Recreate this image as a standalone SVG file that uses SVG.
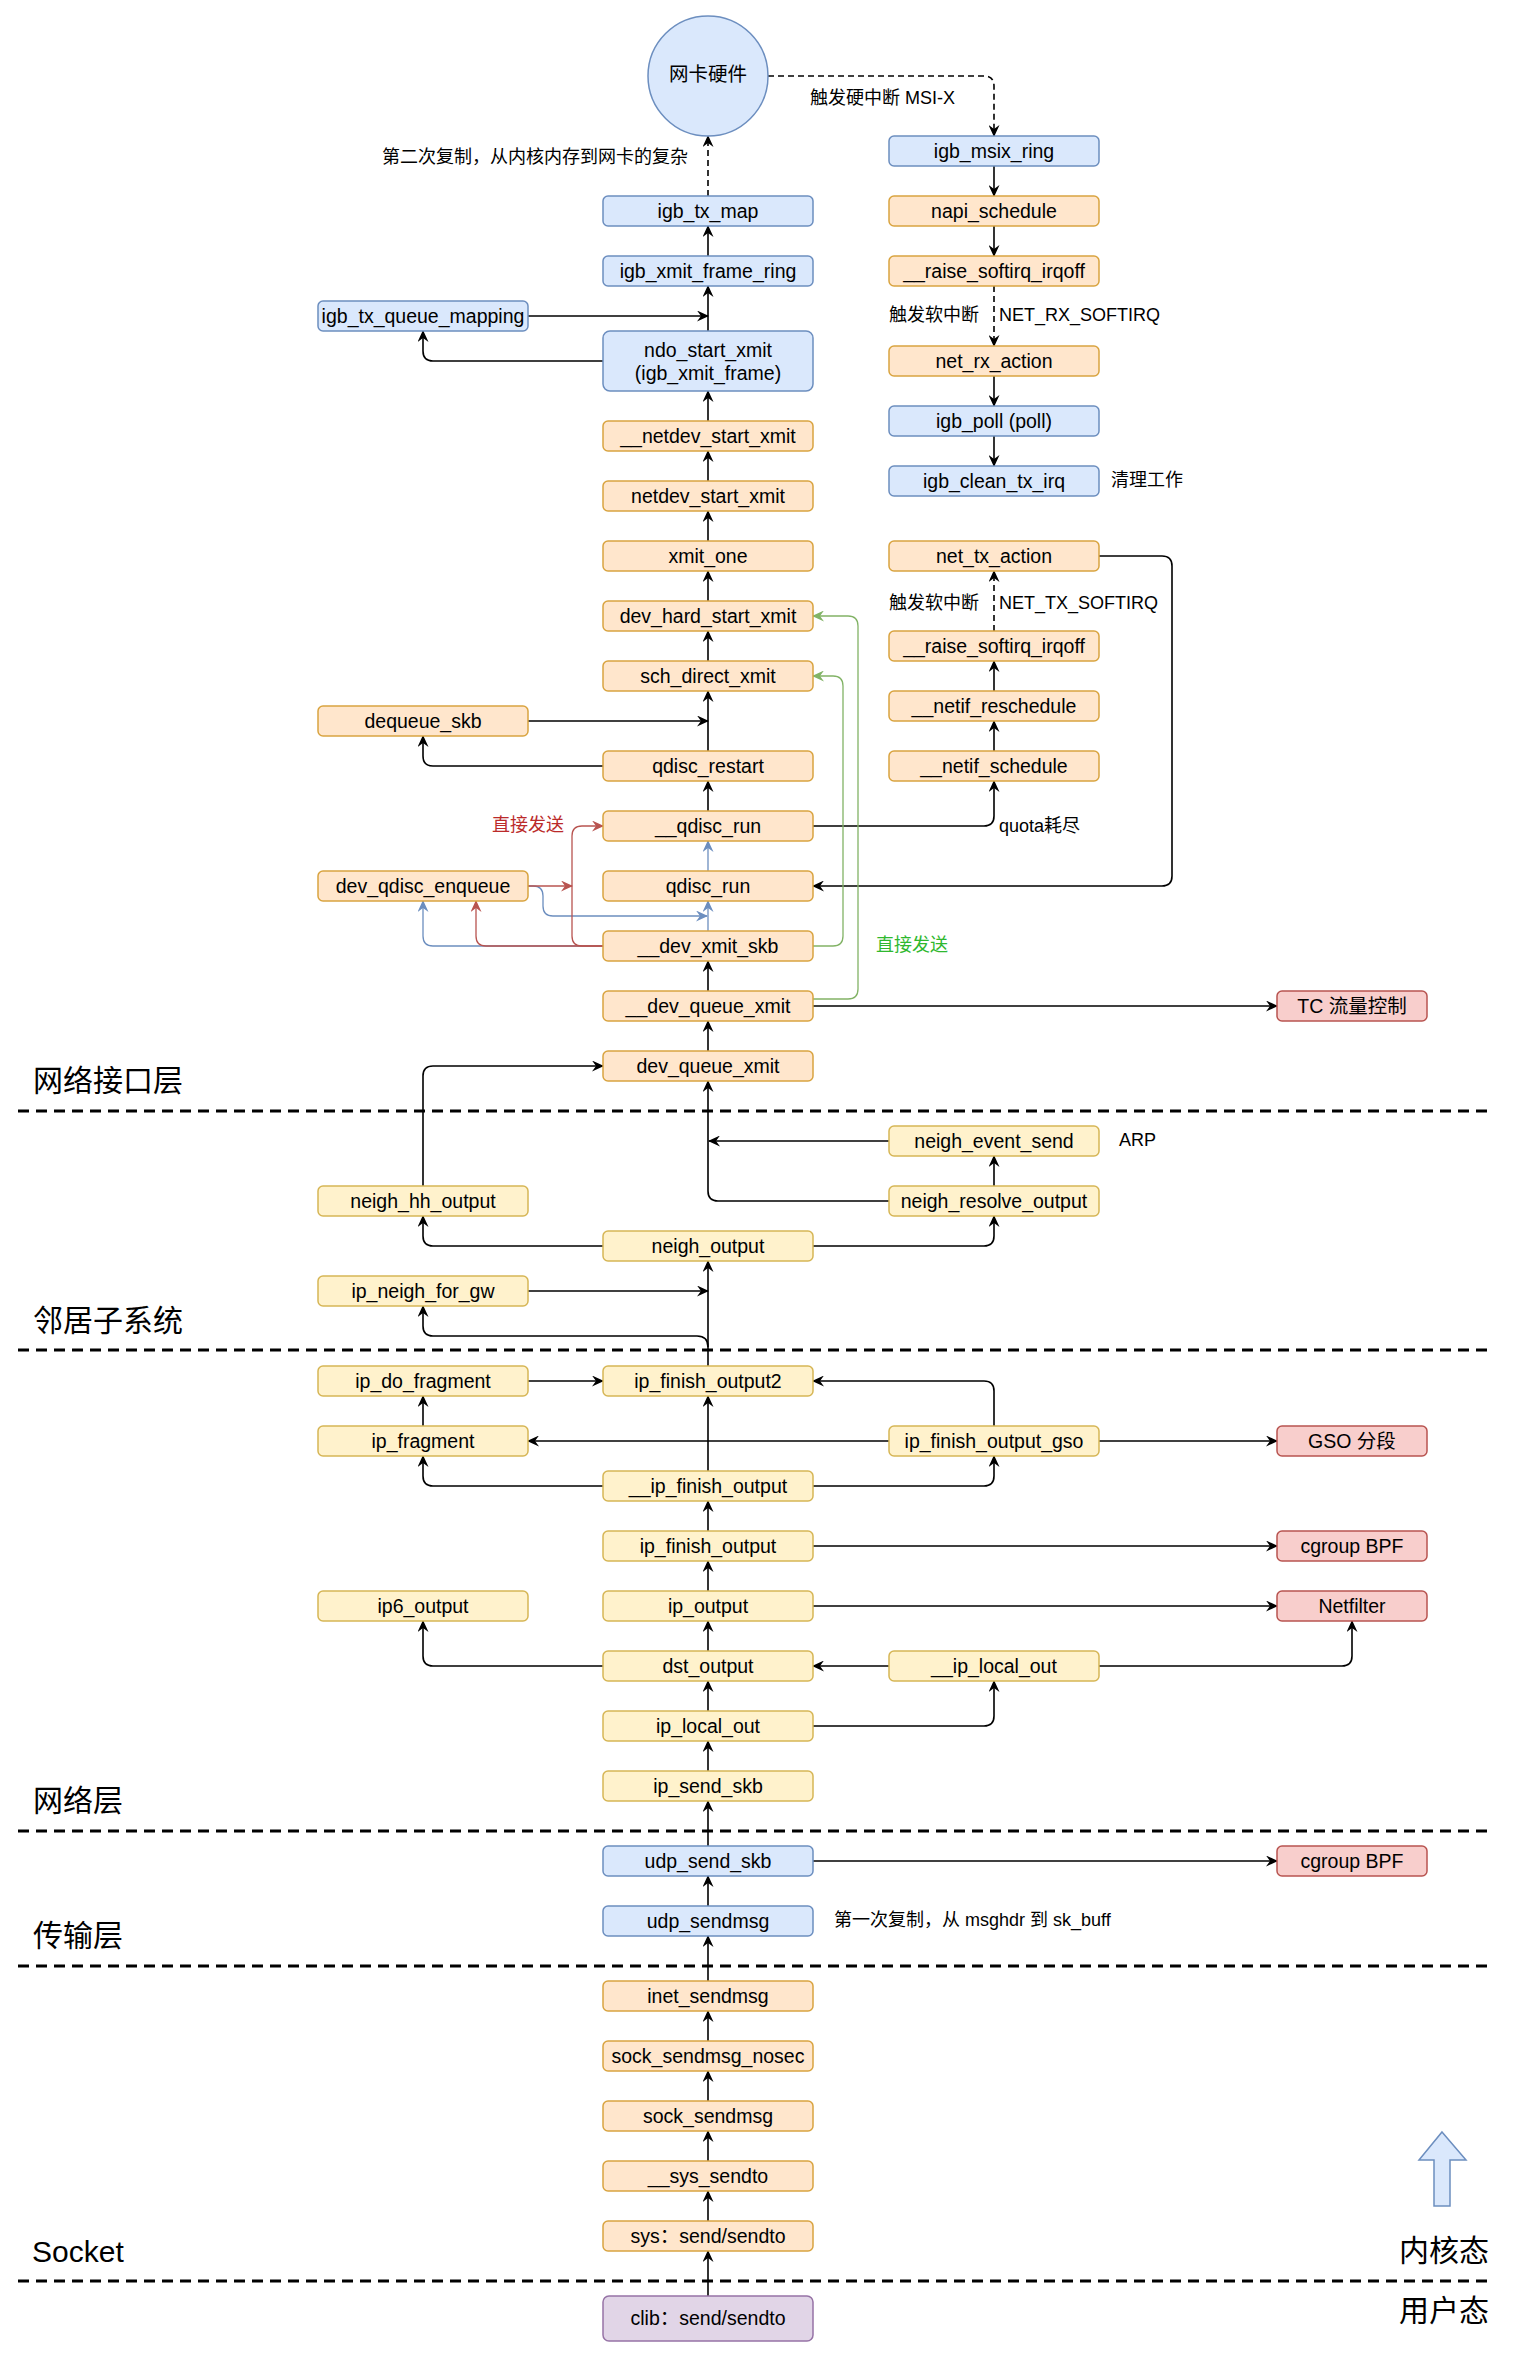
<svg xmlns="http://www.w3.org/2000/svg" width="1518" height="2357" viewBox="0 0 1518 2357">
<style>
.node rect, .node ellipse { stroke-width: 1.5; }
.b rect, .b ellipse { fill: #dae8fc; stroke: #6c8ebf; }
.o rect { fill: #ffe6cc; stroke: #d9a440; }
.y rect { fill: #fff2cc; stroke: #d6b656; }
.r rect { fill: #f8cecc; stroke: #b85450; }
.p rect { fill: #e1d5e7; stroke: #9673a6; }
.node text { font-family: "Liberation Sans", "Noto Sans CJK SC", sans-serif; font-size: 19.5px; text-anchor: middle; dominant-baseline: central; fill: #000; }
.lbl { font-family: "Liberation Sans", "Noto Sans CJK SC", sans-serif; font-size: 18px; dominant-baseline: central; fill: #000; }
.sec { font-family: "Liberation Sans", "Noto Sans CJK SC", sans-serif; font-size: 30px; dominant-baseline: central; fill: #000; }
.c { fill: none; stroke-width: 1.6; }
.k { stroke: #000; marker-end: url(#ak); }
.bl { stroke: #6c8ebf; stroke-width: 1.3; marker-end: url(#ab); }
.rd { stroke: #b85450; stroke-width: 1.3; marker-end: url(#ar); }
.gr { stroke: #82b366; stroke-width: 1.3; marker-end: url(#ag); }
.d { stroke-dasharray: 6 4; }
.sep { stroke: #000; stroke-width: 3; stroke-dasharray: 11 7; fill: none; }
</style>
<defs>
<marker id="ak" viewBox="0 0 12 11" refX="11" refY="5.5" markerWidth="12" markerHeight="11" orient="auto" markerUnits="userSpaceOnUse"><path d="M0,0 L12,5.5 L0,11 L4,5.5 Z" fill="#000"/></marker>
<marker id="ab" viewBox="0 0 12 11" refX="11" refY="5.5" markerWidth="12" markerHeight="11" orient="auto" markerUnits="userSpaceOnUse"><path d="M0,0 L12,5.5 L0,11 L4,5.5 Z" fill="#6c8ebf"/></marker>
<marker id="ar" viewBox="0 0 12 11" refX="11" refY="5.5" markerWidth="12" markerHeight="11" orient="auto" markerUnits="userSpaceOnUse"><path d="M0,0 L12,5.5 L0,11 L4,5.5 Z" fill="#b85450"/></marker>
<marker id="ag" viewBox="0 0 12 11" refX="11" refY="5.5" markerWidth="12" markerHeight="11" orient="auto" markerUnits="userSpaceOnUse"><path d="M0,0 L12,5.5 L0,11 L4,5.5 Z" fill="#82b366"/></marker>
</defs>
<rect width="1518" height="2357" fill="#ffffff"/>

<g id="separators">
<path class="sep" d="M18,1111 H1493"/>
<path class="sep" d="M18,1350 H1493"/>
<path class="sep" d="M18,1831 H1493"/>
<path class="sep" d="M18,1966 H1493"/>
<path class="sep" d="M18,2281 H1493"/>
</g>

<g id="connectors">
<path class="c k d" d="M708,196 L708,136"/>
<path class="c k d" d="M768,76 L984,76 Q994,76 994,86 L994,136"/>
<path class="c k" d="M708,256 L708,226"/>
<path class="c k" d="M708,331 L708,286"/>
<path class="c k" d="M528,316 L708,316"/>
<path class="c k" d="M603,361 L433,361 Q423,361 423,351 L423,331"/>
<path class="c k" d="M708,421 L708,391"/>
<path class="c k" d="M708,481 L708,451"/>
<path class="c k" d="M708,541 L708,511"/>
<path class="c k" d="M708,601 L708,571"/>
<path class="c k" d="M708,661 L708,631"/>
<path class="c k" d="M708,751 L708,691"/>
<path class="c k" d="M528,721 L708,721"/>
<path class="c k" d="M603,766 L433,766 Q423,766 423,756 L423,736"/>
<path class="c k" d="M708,811 L708,781"/>
<path class="c k" d="M708,991 L708,961"/>
<path class="c k" d="M708,1051 L708,1021"/>
<path class="c k" d="M813,1006 L1277,1006"/>
<path class="c k" d="M994,166 L994,196"/>
<path class="c k" d="M994,226 L994,256"/>
<path class="c k d" d="M994,286 L994,346"/>
<path class="c k" d="M994,376 L994,406"/>
<path class="c k" d="M994,436 L994,466"/>
<path class="c k" d="M1099,556 L1162,556 Q1172,556 1172,566 L1172,876 Q1172,886 1162,886 L813,886"/>
<path class="c k d" d="M994,631 L994,571"/>
<path class="c k" d="M994,691 L994,661"/>
<path class="c k" d="M994,751 L994,721"/>
<path class="c k" d="M813,826 L984,826 Q994,826 994,816 L994,781"/>
<path class="c bl" d="M708,871 L708,841"/>
<path class="c bl" d="M708,931 L708,901"/>
<path class="c bl" d="M528,886 L533,886 Q543,886 543,896 L543,906 Q543,916 553,916 L707,916"/>
<path class="c bl" d="M603,946 L433,946 Q423,946 423,936 L423,901"/>
<path class="c rd" d="M528,886 L572,886"/>
<path class="c rd" d="M603,946 L486,946 Q476,946 476,936 L476,901"/>
<path class="c rd" d="M603,946 L582,946 Q572,946 572,936 L572,836 Q572,826 582,826 L603,826"/>
<path class="c gr" d="M813,946 L833,946 Q843,946 843,936 L843,686 Q843,676 833,676 L813,676"/>
<path class="c gr" d="M813,999 L848,999 Q858,999 858,989 L858,626 Q858,616 848,616 L813,616"/>
<path class="c k" d="M889,1201 L718,1201 Q708,1201 708,1191 L708,1081"/>
<path class="c k" d="M889,1141 L709,1141"/>
<path class="c k" d="M994,1186 L994,1156"/>
<path class="c k" d="M423,1186 L423,1076 Q423,1066 433,1066 L603,1066"/>
<path class="c k" d="M603,1246 L433,1246 Q423,1246 423,1236 L423,1216"/>
<path class="c k" d="M813,1246 L984,1246 Q994,1246 994,1236 L994,1216"/>
<path class="c k" d="M708,1366 L708,1261"/>
<path class="c k" d="M528,1291 L708,1291"/>
<path class="c k" d="M708,1347 Q708,1336 697,1336 L433,1336 Q423,1336 423,1326 L423,1306"/>
<path class="c k" d="M528,1381 L603,1381"/>
<path class="c k" d="M423,1426 L423,1396"/>
<path class="c k" d="M889,1441 L528,1441"/>
<path class="c k" d="M994,1426 L994,1391 Q994,1381 984,1381 L813,1381"/>
<path class="c k" d="M1099,1441 L1277,1441"/>
<path class="c k" d="M708,1471 L708,1396"/>
<path class="c k" d="M603,1486 L433,1486 Q423,1486 423,1476 L423,1456"/>
<path class="c k" d="M813,1486 L984,1486 Q994,1486 994,1476 L994,1456"/>
<path class="c k" d="M708,1531 L708,1501"/>
<path class="c k" d="M813,1546 L1277,1546"/>
<path class="c k" d="M708,1591 L708,1561"/>
<path class="c k" d="M813,1606 L1277,1606"/>
<path class="c k" d="M708,1651 L708,1621"/>
<path class="c k" d="M603,1666 L433,1666 Q423,1666 423,1656 L423,1621"/>
<path class="c k" d="M889,1666 L813,1666"/>
<path class="c k" d="M1099,1666 L1342,1666 Q1352,1666 1352,1656 L1352,1621"/>
<path class="c k" d="M708,1711 L708,1681"/>
<path class="c k" d="M813,1726 L984,1726 Q994,1726 994,1716 L994,1681"/>
<path class="c k" d="M708,1771 L708,1741"/>
<path class="c k" d="M708,1846 L708,1801"/>
<path class="c k" d="M813,1861 L1277,1861"/>
<path class="c k" d="M708,1906 L708,1876"/>
<path class="c k" d="M708,1981 L708,1936"/>
<path class="c k" d="M708,2041 L708,2011"/>
<path class="c k" d="M708,2101 L708,2071"/>
<path class="c k" d="M708,2161 L708,2131"/>
<path class="c k" d="M708,2221 L708,2191"/>
<path class="c k" d="M708,2296 L708,2251"/>
</g>

<g id="nodes">
<g id="n-nic" class="node b"><ellipse cx="708" cy="76" rx="60" ry="60"/><text x="708" y="74">网卡硬件</text></g>
<g id="n-igb_tx_map" class="node b"><rect x="603" y="196" width="210" height="30" rx="5"/><text x="708" y="211">igb_tx_map</text></g>
<g id="n-igb_xmit_frame_ring" class="node b"><rect x="603" y="256" width="210" height="30" rx="5"/><text x="708" y="271">igb_xmit_frame_ring</text></g>
<g id="n-igb_tx_queue_mapping" class="node b"><rect x="318" y="301" width="210" height="30" rx="5"/><text x="423" y="316">igb_tx_queue_mapping</text></g>
<g id="n-ndo_start_xmit" class="node b"><rect x="603" y="331" width="210" height="60" rx="7"/><text x="708" y="350">ndo_start_xmit</text><text x="708" y="373">(igb_xmit_frame)</text></g>
<g id="n-__netdev_start_xmit" class="node o"><rect x="603" y="421" width="210" height="30" rx="5"/><text x="708" y="436">__netdev_start_xmit</text></g>
<g id="n-netdev_start_xmit" class="node o"><rect x="603" y="481" width="210" height="30" rx="5"/><text x="708" y="496">netdev_start_xmit</text></g>
<g id="n-xmit_one" class="node o"><rect x="603" y="541" width="210" height="30" rx="5"/><text x="708" y="556">xmit_one</text></g>
<g id="n-dev_hard_start_xmit" class="node o"><rect x="603" y="601" width="210" height="30" rx="5"/><text x="708" y="616">dev_hard_start_xmit</text></g>
<g id="n-sch_direct_xmit" class="node o"><rect x="603" y="661" width="210" height="30" rx="5"/><text x="708" y="676">sch_direct_xmit</text></g>
<g id="n-dequeue_skb" class="node o"><rect x="318" y="706" width="210" height="30" rx="5"/><text x="423" y="721">dequeue_skb</text></g>
<g id="n-qdisc_restart" class="node o"><rect x="603" y="751" width="210" height="30" rx="5"/><text x="708" y="766">qdisc_restart</text></g>
<g id="n-__qdisc_run" class="node o"><rect x="603" y="811" width="210" height="30" rx="5"/><text x="708" y="826">__qdisc_run</text></g>
<g id="n-qdisc_run" class="node o"><rect x="603" y="871" width="210" height="30" rx="5"/><text x="708" y="886">qdisc_run</text></g>
<g id="n-dev_qdisc_enqueue" class="node o"><rect x="318" y="871" width="210" height="30" rx="5"/><text x="423" y="886">dev_qdisc_enqueue</text></g>
<g id="n-__dev_xmit_skb" class="node o"><rect x="603" y="931" width="210" height="30" rx="5"/><text x="708" y="946">__dev_xmit_skb</text></g>
<g id="n-__dev_queue_xmit" class="node o"><rect x="603" y="991" width="210" height="30" rx="5"/><text x="708" y="1006">__dev_queue_xmit</text></g>
<g id="n-dev_queue_xmit" class="node o"><rect x="603" y="1051" width="210" height="30" rx="5"/><text x="708" y="1066">dev_queue_xmit</text></g>
<g id="n-tc" class="node r"><rect x="1277" y="991" width="150" height="30" rx="5"/><text x="1352" y="1006">TC 流量控制</text></g>

<g id="n-igb_msix_ring" class="node b"><rect x="889" y="136" width="210" height="30" rx="5"/><text x="994" y="151">igb_msix_ring</text></g>
<g id="n-napi_schedule" class="node o"><rect x="889" y="196" width="210" height="30" rx="5"/><text x="994" y="211">napi_schedule</text></g>
<g id="n-__raise_softirq_irqoff_rx" class="node o"><rect x="889" y="256" width="210" height="30" rx="5"/><text x="994" y="271">__raise_softirq_irqoff</text></g>
<g id="n-net_rx_action" class="node o"><rect x="889" y="346" width="210" height="30" rx="5"/><text x="994" y="361">net_rx_action</text></g>
<g id="n-igb_poll" class="node b"><rect x="889" y="406" width="210" height="30" rx="5"/><text x="994" y="421">igb_poll (poll)</text></g>
<g id="n-igb_clean_tx_irq" class="node b"><rect x="889" y="466" width="210" height="30" rx="5"/><text x="994" y="481">igb_clean_tx_irq</text></g>
<g id="n-net_tx_action" class="node o"><rect x="889" y="541" width="210" height="30" rx="5"/><text x="994" y="556">net_tx_action</text></g>
<g id="n-__raise_softirq_irqoff_tx" class="node o"><rect x="889" y="631" width="210" height="30" rx="5"/><text x="994" y="646">__raise_softirq_irqoff</text></g>
<g id="n-__netif_reschedule" class="node o"><rect x="889" y="691" width="210" height="30" rx="5"/><text x="994" y="706">__netif_reschedule</text></g>
<g id="n-__netif_schedule" class="node o"><rect x="889" y="751" width="210" height="30" rx="5"/><text x="994" y="766">__netif_schedule</text></g>

<g id="n-neigh_event_send" class="node y"><rect x="889" y="1126" width="210" height="30" rx="5"/><text x="994" y="1141">neigh_event_send</text></g>
<g id="n-neigh_resolve_output" class="node y"><rect x="889" y="1186" width="210" height="30" rx="5"/><text x="994" y="1201">neigh_resolve_output</text></g>
<g id="n-neigh_hh_output" class="node y"><rect x="318" y="1186" width="210" height="30" rx="5"/><text x="423" y="1201">neigh_hh_output</text></g>
<g id="n-neigh_output" class="node y"><rect x="603" y="1231" width="210" height="30" rx="5"/><text x="708" y="1246">neigh_output</text></g>
<g id="n-ip_neigh_for_gw" class="node y"><rect x="318" y="1276" width="210" height="30" rx="5"/><text x="423" y="1291">ip_neigh_for_gw</text></g>

<g id="n-ip_do_fragment" class="node y"><rect x="318" y="1366" width="210" height="30" rx="5"/><text x="423" y="1381">ip_do_fragment</text></g>
<g id="n-ip_finish_output2" class="node y"><rect x="603" y="1366" width="210" height="30" rx="5"/><text x="708" y="1381">ip_finish_output2</text></g>
<g id="n-ip_fragment" class="node y"><rect x="318" y="1426" width="210" height="30" rx="5"/><text x="423" y="1441">ip_fragment</text></g>
<g id="n-ip_finish_output_gso" class="node y"><rect x="889" y="1426" width="210" height="30" rx="5"/><text x="994" y="1441">ip_finish_output_gso</text></g>
<g id="n-gso" class="node r"><rect x="1277" y="1426" width="150" height="30" rx="5"/><text x="1352" y="1441">GSO 分段</text></g>
<g id="n-__ip_finish_output" class="node y"><rect x="603" y="1471" width="210" height="30" rx="5"/><text x="708" y="1486">__ip_finish_output</text></g>
<g id="n-ip_finish_output" class="node y"><rect x="603" y="1531" width="210" height="30" rx="5"/><text x="708" y="1546">ip_finish_output</text></g>
<g id="n-cgroup_bpf_1" class="node r"><rect x="1277" y="1531" width="150" height="30" rx="5"/><text x="1352" y="1546">cgroup BPF</text></g>
<g id="n-ip6_output" class="node y"><rect x="318" y="1591" width="210" height="30" rx="5"/><text x="423" y="1606">ip6_output</text></g>
<g id="n-ip_output" class="node y"><rect x="603" y="1591" width="210" height="30" rx="5"/><text x="708" y="1606">ip_output</text></g>
<g id="n-netfilter" class="node r"><rect x="1277" y="1591" width="150" height="30" rx="5"/><text x="1352" y="1606">Netfilter</text></g>
<g id="n-dst_output" class="node y"><rect x="603" y="1651" width="210" height="30" rx="5"/><text x="708" y="1666">dst_output</text></g>
<g id="n-__ip_local_out" class="node y"><rect x="889" y="1651" width="210" height="30" rx="5"/><text x="994" y="1666">__ip_local_out</text></g>
<g id="n-ip_local_out" class="node y"><rect x="603" y="1711" width="210" height="30" rx="5"/><text x="708" y="1726">ip_local_out</text></g>
<g id="n-ip_send_skb" class="node y"><rect x="603" y="1771" width="210" height="30" rx="5"/><text x="708" y="1786">ip_send_skb</text></g>

<g id="n-udp_send_skb" class="node b"><rect x="603" y="1846" width="210" height="30" rx="5"/><text x="708" y="1861">udp_send_skb</text></g>
<g id="n-cgroup_bpf_2" class="node r"><rect x="1277" y="1846" width="150" height="30" rx="5"/><text x="1352" y="1861">cgroup BPF</text></g>
<g id="n-udp_sendmsg" class="node b"><rect x="603" y="1906" width="210" height="30" rx="5"/><text x="708" y="1921">udp_sendmsg</text></g>

<g id="n-inet_sendmsg" class="node o"><rect x="603" y="1981" width="210" height="30" rx="5"/><text x="708" y="1996">inet_sendmsg</text></g>
<g id="n-sock_sendmsg_nosec" class="node o"><rect x="603" y="2041" width="210" height="30" rx="5"/><text x="708" y="2056">sock_sendmsg_nosec</text></g>
<g id="n-sock_sendmsg" class="node o"><rect x="603" y="2101" width="210" height="30" rx="5"/><text x="708" y="2116">sock_sendmsg</text></g>
<g id="n-__sys_sendto" class="node o"><rect x="603" y="2161" width="210" height="30" rx="5"/><text x="708" y="2176">__sys_sendto</text></g>
<g id="n-sys_sendto" class="node o"><rect x="603" y="2221" width="210" height="30" rx="5"/><text x="708" y="2236">sys：send/sendto</text></g>
<g id="n-clib_sendto" class="node p"><rect x="603" y="2296" width="210" height="45" rx="6"/><text x="708" y="2318">clib：send/sendto</text></g>
</g>

<g id="labels">
<text class="lbl" x="688" y="157" text-anchor="end">第二次复制，从内核内存到网卡的复杂</text>
<text class="lbl" x="810" y="98">触发硬中断 MSI-X</text>
<text class="lbl" x="889" y="315">触发软中断</text>
<text class="lbl" x="999" y="315">NET_RX_SOFTIRQ</text>
<text class="lbl" x="1111" y="480">清理工作</text>
<text class="lbl" x="889" y="603">触发软中断</text>
<text class="lbl" x="999" y="603">NET_TX_SOFTIRQ</text>
<text class="lbl" x="999" y="826">quota耗尽</text>
<text class="lbl" x="564" y="825" text-anchor="end" style="fill:#bb2a2a">直接发送</text>
<text class="lbl" x="876" y="945" style="fill:#2fb82f">直接发送</text>
<text class="lbl" x="1119" y="1140">ARP</text>
<text class="lbl" x="834" y="1920">第一次复制，从 msghdr 到 sk_buff</text>
<text class="sec" x="33" y="1080">网络接口层</text>
<text class="sec" x="33" y="1320">邻居子系统</text>
<text class="sec" x="33" y="1800">网络层</text>
<text class="sec" x="33" y="1935">传输层</text>
<text class="sec" x="32" y="2251">Socket</text>
<text class="sec" x="1489" y="2250" text-anchor="end">内核态</text>
<text class="sec" x="1489" y="2310" text-anchor="end">用户态</text>
</g>

<g id="kernel-arrow">
<polygon points="1442,2132 1466,2160 1450,2160 1450,2206 1434,2206 1434,2160 1419,2160" fill="#dae8fc" stroke="#6c8ebf" stroke-width="1.5"/>
</g>
</svg>
